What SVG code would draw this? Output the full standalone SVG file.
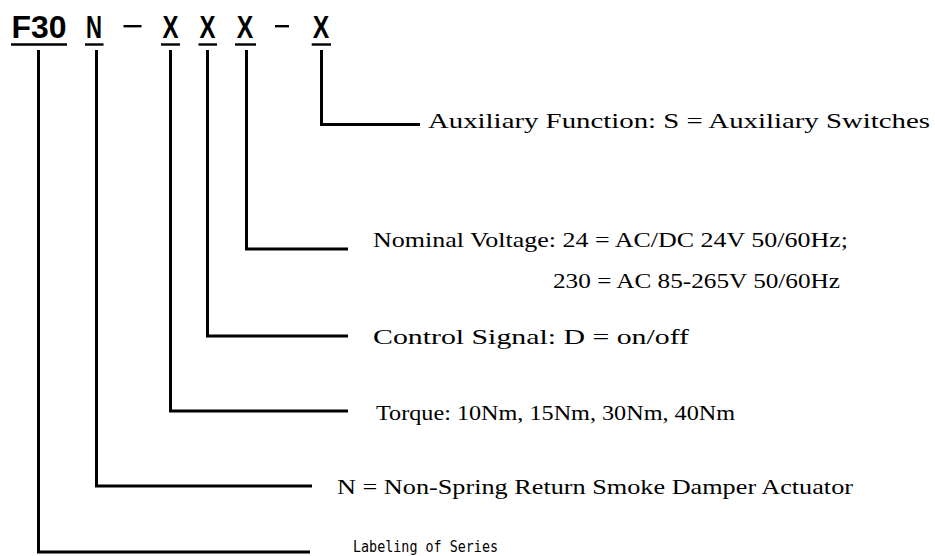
<svg xmlns="http://www.w3.org/2000/svg" width="935" height="556" viewBox="0 0 935 556">
<style>
.title{font-family:"Liberation Sans",Arial,sans-serif;font-weight:bold;font-size:31px;fill:#000}
.lbl{font-family:"Liberation Serif","Times New Roman",serif;font-size:21.5px;fill:#000}
.sans{font-family:"DejaVu Sans Mono","Liberation Mono",monospace;font-size:15px;fill:#000}
.ul{stroke:#000;stroke-width:2.4}
.conn{fill:none;stroke:#000;stroke-width:3;stroke-linejoin:miter;stroke-linecap:butt}
</style>
<rect width="935" height="556" fill="#fff"/>
<g id="title">
  <text class="title" x="11.5" y="37.5" textLength="55" lengthAdjust="spacingAndGlyphs">F30</text>
  <line class="ul" x1="11" y1="44.5" x2="67" y2="44.5"/>
  <text class="title" x="86" y="37.5" textLength="16" lengthAdjust="spacingAndGlyphs">N</text>
  <line class="ul" x1="85" y1="44.5" x2="103.5" y2="44.5"/>
  <rect x="123.5" y="25" width="18" height="2.4" fill="#000"/>
  <text class="title" x="162.5" y="37.5" textLength="16" lengthAdjust="spacingAndGlyphs">X</text>
  <line class="ul" x1="161" y1="44.5" x2="180" y2="44.5"/>
  <text class="title" x="199.5" y="37.5" textLength="16" lengthAdjust="spacingAndGlyphs">X</text>
  <line class="ul" x1="198.5" y1="44.5" x2="217" y2="44.5"/>
  <text class="title" x="236.8" y="37.5" textLength="16.5" lengthAdjust="spacingAndGlyphs">X</text>
  <line class="ul" x1="235" y1="44.5" x2="256" y2="44.5"/>
  <rect x="275" y="25" width="14" height="2.4" fill="#000"/>
  <text class="title" x="312.8" y="37.5" textLength="16.5" lengthAdjust="spacingAndGlyphs">X</text>
  <line class="ul" x1="311.7" y1="44.5" x2="331" y2="44.5"/>
</g>
<g id="connectors">
  <polyline class="conn" points="38.5,50 38.5,552 310,552"/>
  <polyline class="conn" points="96.5,50 96.5,486 312,486"/>
  <polyline class="conn" points="170.5,50 170.5,411 348,411"/>
  <polyline class="conn" points="207.5,50 207.5,336 348,336"/>
  <polyline class="conn" points="246.5,50 246.5,249 348,249"/>
  <polyline class="conn" points="321.5,50 321.5,124.5 420,124.5"/>
</g>
<g id="aux">
  <text class="lbl" x="428" y="128" textLength="502" lengthAdjust="spacingAndGlyphs">Auxiliary Function: S = Auxiliary Switches</text>
</g>
<g id="voltage">
  <text class="lbl" x="373" y="247" textLength="475" lengthAdjust="spacingAndGlyphs">Nominal Voltage: 24 = AC/DC 24V 50/60Hz;</text>
  <text class="lbl" x="553" y="288" textLength="287" lengthAdjust="spacingAndGlyphs">230 = AC 85-265V 50/60Hz</text>
</g>
<g id="control">
  <text class="lbl" x="373" y="344" textLength="316" lengthAdjust="spacingAndGlyphs">Control Signal: D = on/off</text>
</g>
<g id="torque">
  <text class="lbl" x="376" y="420" textLength="359" lengthAdjust="spacingAndGlyphs">Torque: 10Nm, 15Nm, 30Nm, 40Nm</text>
</g>
<g id="type">
  <text class="lbl" x="337" y="494" textLength="516" lengthAdjust="spacingAndGlyphs">N = Non-Spring Return Smoke Damper Actuator</text>
</g>
<g id="series">
  <text class="sans" x="353" y="552" textLength="145" lengthAdjust="spacingAndGlyphs">Labeling of Series</text>
</g>
</svg>
